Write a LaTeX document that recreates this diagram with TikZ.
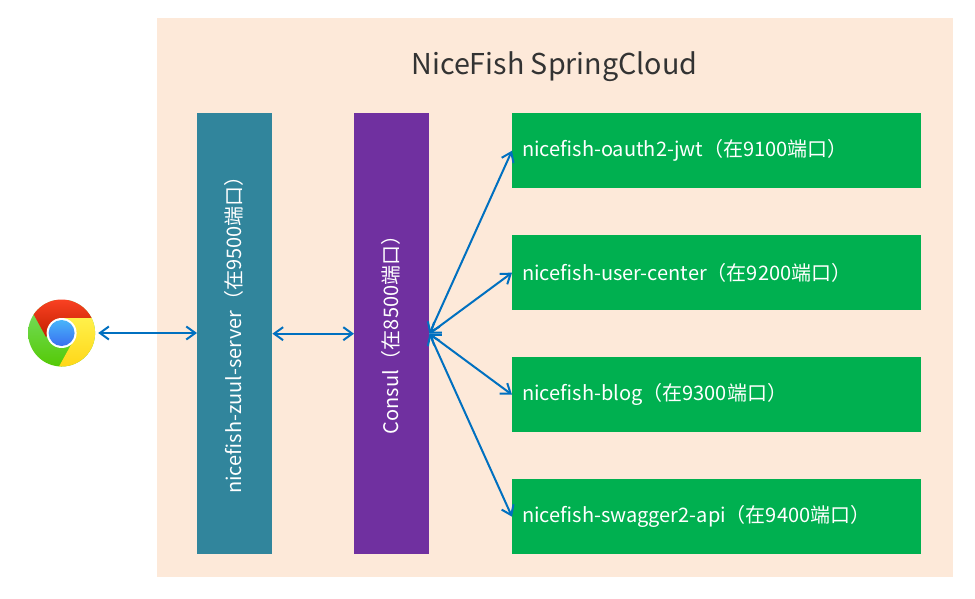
\documentclass[tikz,border=0pt]{standalone}
\usepackage{fontspec}
\setmainfont{Noto Sans CJK SC}
\usetikzlibrary{arrows.meta}
\definecolor{panel}{HTML}{FDE9D9}
\definecolor{teal}{HTML}{31859C}
\definecolor{purp}{HTML}{7030A0}
\definecolor{grn}{HTML}{00B050}
\definecolor{arr}{HTML}{0070C0}
\definecolor{redtop}{HTML}{FF4526}
\definecolor{redbot}{HTML}{C42000}
\definecolor{yeltop}{HTML}{FFF04A}
\definecolor{yelbot}{HTML}{FFD412}
\definecolor{grntop}{HTML}{7ADF6A}
\definecolor{grnbot}{HTML}{52C800}
\definecolor{blutop}{HTML}{48B4FA}
\definecolor{blubot}{HTML}{3A70F0}
\tikzset{
 bar/.style={inner sep=0pt,minimum width=75pt,minimum height=441pt},
 bartext/.style={rotate=90,text=white,font=\fontsize{20}{24}\selectfont},
 svc/.style={fill=grn,inner sep=0pt,minimum height=75pt,minimum width=409pt,text width=389pt,align=left,text=white,font=\fontsize{20}{24}\selectfont},
 link/.style={draw=arr,line width=2pt,{Straight Barb[length=9pt,width=13pt,line width=2pt]}-{Straight Barb[length=9pt,width=13pt,line width=2pt]}}
}
\begin{document}
\begin{tikzpicture}[x=1pt,y=-1pt]
\useasboundingbox (0,0) rectangle (975,598);
\fill[white] (0,0) rectangle (975,598);
\node[fill=panel,inner sep=0pt,minimum width=796pt,minimum height=559pt,anchor=north west] (panel) at (157,18) {};
\node[text=black!80,font=\fontsize{28.7}{32}\selectfont] (title) at (554.5,67) {NiceFish SpringCloud};
\node[bar,fill=teal,anchor=north west] (zuul) at (197,113) {};
\node[bar,fill=purp,anchor=north west] (consul) at (354,113) {};
\node[bartext] (zuultext) at (233.5,330) {nicefish-zuul-server（在9500端口）};
\node[bartext] (consultext) at (390.5,330) {Consul（在8500端口）};
\node[svc,anchor=north west] (s1) at (512,113) {\raisebox{-1pt}{nicefish-oauth2-jwt（在9100端口）}};
\node[svc,anchor=north west] (s2) at (512,235) {\raisebox{-1pt}{nicefish-user-center（在9200端口）}};
\node[svc,anchor=north west] (s3) at (512,357) {\raisebox{-1pt}{nicefish-blog（在9300端口）}};
\node[svc,anchor=north west] (s4) at (512,479) {\raisebox{-1pt}{nicefish-swagger2-api（在9400端口）}};
% Chrome icon
\begin{scope}
\clip (61.6,333) circle (33.5);
\shade[top color=grntop,bottom color=grnbot] (20,300) rectangle (100,370);
\shade[top color=redtop,bottom color=redbot] (61,318) -- (100,318) -- (100,295) -- (20,295) -- (34,315) -- (46,337) -- cycle;
\shade[top color=yeltop,bottom color=yelbot] (61,318) -- (100,318) -- (100,372) -- (56,372) -- (72,343) -- cycle;
\end{scope}
\fill[white] (61.6,333) circle (15);
\shade[top color=blutop,bottom color=blubot] (61.6,333) circle (13);
\node[circle,inner sep=0pt,minimum size=74pt] (chrome) at (61,333) {};
% Connectors
\draw[link] (chrome.east) -- (chrome.east -| zuul.west);
\draw[link] (zuul.east |- consul.east) -- (consul.west);
\draw[link] (consul.east) -- (s1.west);
\draw[link] (consul.east) -- (s2.west);
\draw[link] (consul.east) -- (s3.west);
\draw[link] (consul.east) -- (s4.west);
\end{tikzpicture}
\end{document}
